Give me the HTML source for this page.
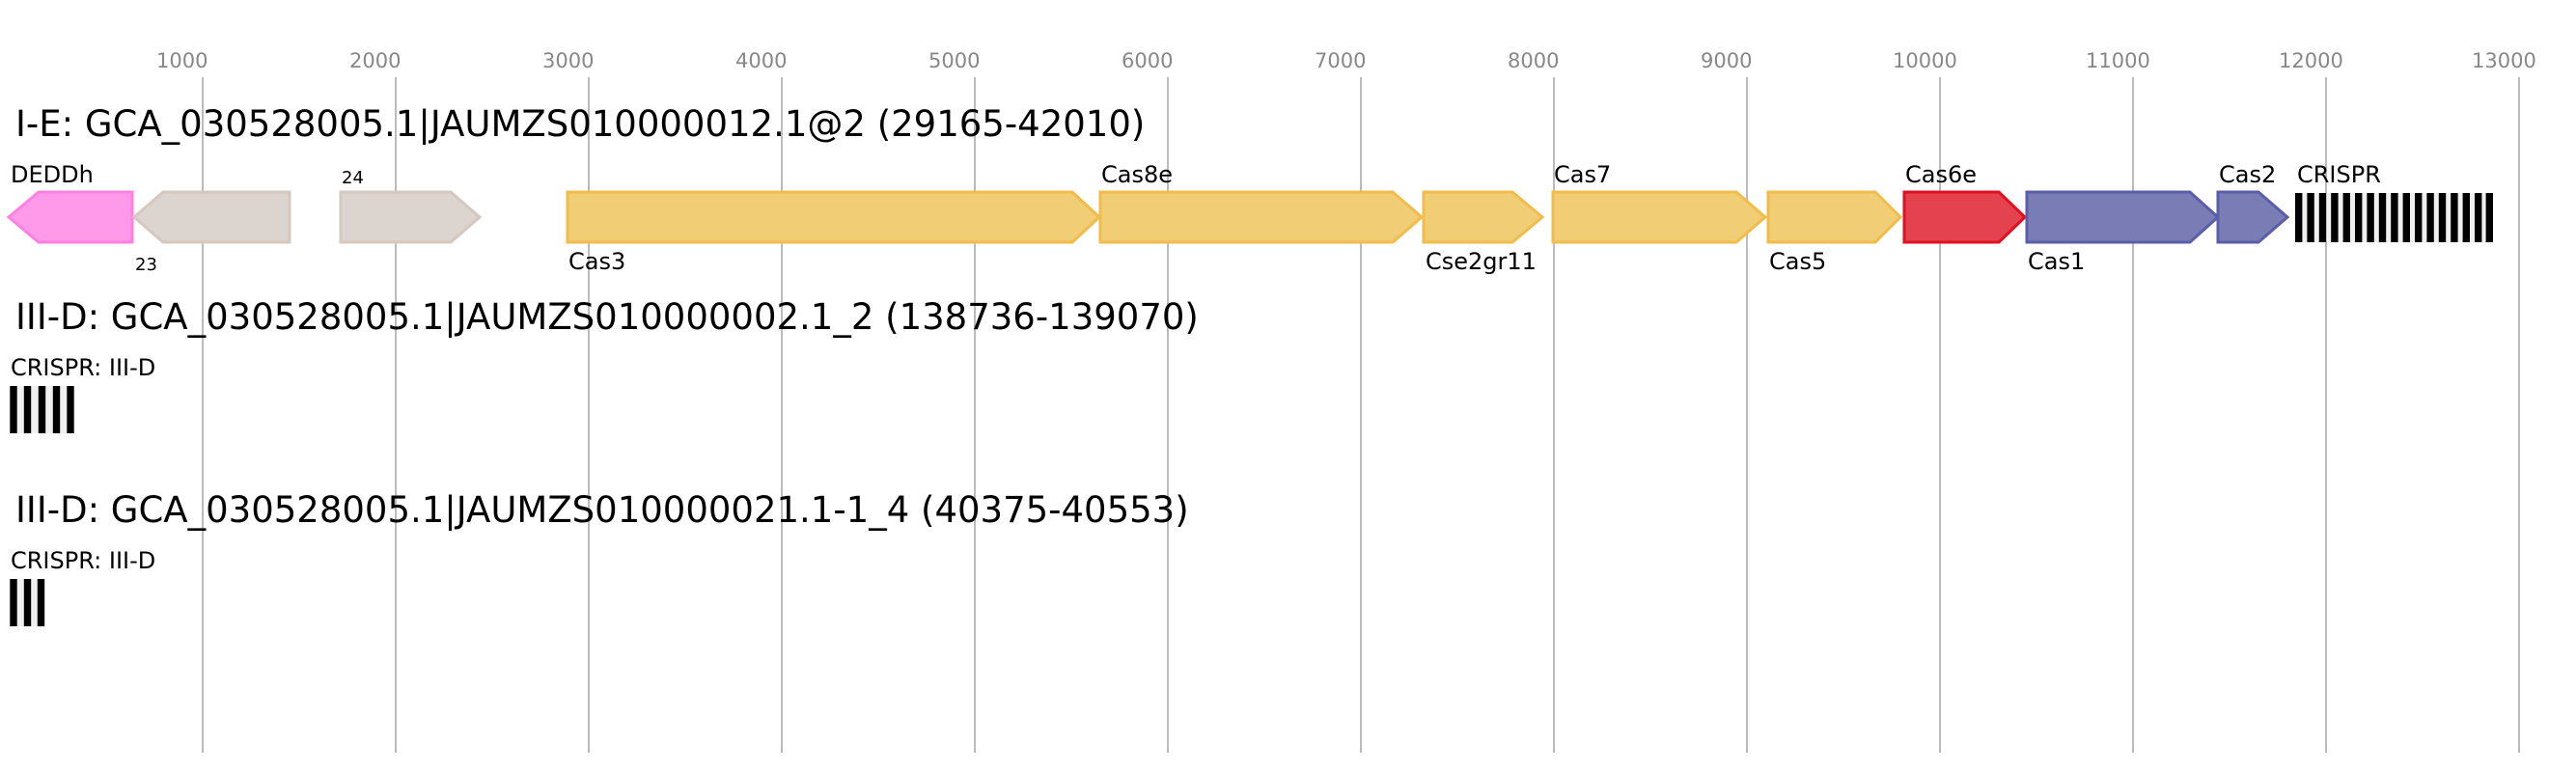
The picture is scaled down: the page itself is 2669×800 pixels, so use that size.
<!DOCTYPE html>
<html><head><meta charset="utf-8"><style>html,body{margin:0;padding:0;background:#fff}svg{display:block}text{font-family:"DejaVu Sans","Liberation Sans",sans-serif}</style></head>
<body>
<svg width="2669" height="800" viewBox="0 0 2669 800" xmlns="http://www.w3.org/2000/svg">
<g stroke="#bbb" stroke-width="2">
<line x1="210" y1="80" x2="210" y2="780"/><line x1="410" y1="80" x2="410" y2="780"/><line x1="610" y1="80" x2="610" y2="780"/><line x1="810" y1="80" x2="810" y2="780"/><line x1="1010" y1="80" x2="1010" y2="780"/><line x1="1210" y1="80" x2="1210" y2="780"/><line x1="1410" y1="80" x2="1410" y2="780"/><line x1="1610" y1="80" x2="1610" y2="780"/><line x1="1810" y1="80" x2="1810" y2="780"/><line x1="2010" y1="80" x2="2010" y2="780"/><line x1="2210" y1="80" x2="2210" y2="780"/><line x1="2410" y1="80" x2="2410" y2="780"/><line x1="2610" y1="80" x2="2610" y2="780"/>
</g>
<g fill="#888" font-size="21">
<text x="162" y="70">1000</text><text x="362" y="70">2000</text><text x="562" y="70">3000</text><text x="762" y="70">4000</text><text x="962" y="70">5000</text><text x="1162" y="70">6000</text><text x="1362" y="70">7000</text><text x="1562" y="70">8000</text><text x="1762" y="70">9000</text><text x="1961" y="70">10000</text><text x="2161" y="70">11000</text><text x="2361" y="70">12000</text><text x="2561" y="70">13000</text>
</g>
<g font-size="37" fill="#000">
<text x="16" y="141">I-E: GCA_030528005.1|JAUMZS010000012.1@2 (29165-42010)</text>
<text x="16" y="341">III-D: GCA_030528005.1|JAUMZS010000002.1_2 (138736-139070)</text>
<text x="16" y="541">III-D: GCA_030528005.1|JAUMZS010000021.1-1_4 (40375-40553)</text>
</g>
<g stroke-width="3">
<polygon points="9,225 40,199 137,199 137,251 40,251" fill="#ff99ea" stroke="#ff80e0"/>
<polygon points="139,225 169,199 300,199 300,251 169,251" fill="#dbd4cf" stroke="#d4c8bf"/>
<polygon points="353,199 467,199 497,225 467,251 353,251" fill="#dbd4cf" stroke="#d4c8bf"/>
<polygon points="588,199 1111,199 1139,225 1111,251 588,251" fill="#f1cd76" stroke="#f0bc4a"/>
<polygon points="1140,199 1443,199 1473,225 1443,251 1140,251" fill="#f1cd76" stroke="#f0bc4a"/>
<polygon points="1475,199 1567,199 1598,225 1567,251 1475,251" fill="#f1cd76" stroke="#f0bc4a"/>
<polygon points="1609,199 1799,199 1829,225 1799,251 1609,251" fill="#f1cd76" stroke="#f0bc4a"/>
<polygon points="1832,199 1943,199 1969,225 1943,251 1832,251" fill="#f1cd76" stroke="#f0bc4a"/>
<polygon points="1973,199 2071,199 2098,225 2071,251 1973,251" fill="#e5424f" stroke="#e01020"/>
<polygon points="2100,199 2269,199 2298,225 2269,251 2100,251" fill="#7a7db5" stroke="#5a5ea8"/>
<polygon points="2298,199 2340,199 2370,225 2340,251 2298,251" fill="#7a7db5" stroke="#5a5ea8"/>
</g>
<g font-size="24" fill="#000">
<text x="11" y="189">DEDDh</text><text x="140" y="280" font-size="18">23</text><text x="354" y="190" font-size="18">24</text>
<text x="589" y="279">Cas3</text><text x="1141" y="189">Cas8e</text><text x="1477" y="279">Cse2gr11</text>
<text x="1610" y="189">Cas7</text><text x="1833" y="279">Cas5</text><text x="1974" y="189">Cas6e</text>
<text x="2101" y="279">Cas1</text><text x="2299" y="189">Cas2</text><text x="2380" y="189">CRISPR</text>
<text x="11" y="389">CRISPR: III-D</text><text x="11" y="589">CRISPR: III-D</text>
</g>
<rect x="2378" y="200" width="205" height="51" fill="#f0f0f0"/>
<rect x="10" y="400" width="67" height="49" fill="#f0f0f0"/>
<rect x="10" y="600" width="36" height="49" fill="#f0f0f0"/>
<g stroke="#000" stroke-width="7.4">
<path d="M2381.7,200V251M2394.1,200V251M2406.5,200V251M2418.9,200V251M2431.3,200V251M2443.7,200V251M2456.1,200V251M2468.5,200V251M2480.9,200V251M2493.3,200V251M2505.7,200V251M2518.1,200V251M2530.5,200V251M2542.9,200V251M2555.3,200V251M2567.7,200V251M2579.3,200V251"/>
<path d="M14,400V449M28.5,400V449M43.5,400V449M58.5,400V449M73,400V449"/>
<path d="M14,600V649M28.5,600V649M42.5,600V649"/>
</g>
</svg>
</body></html>
